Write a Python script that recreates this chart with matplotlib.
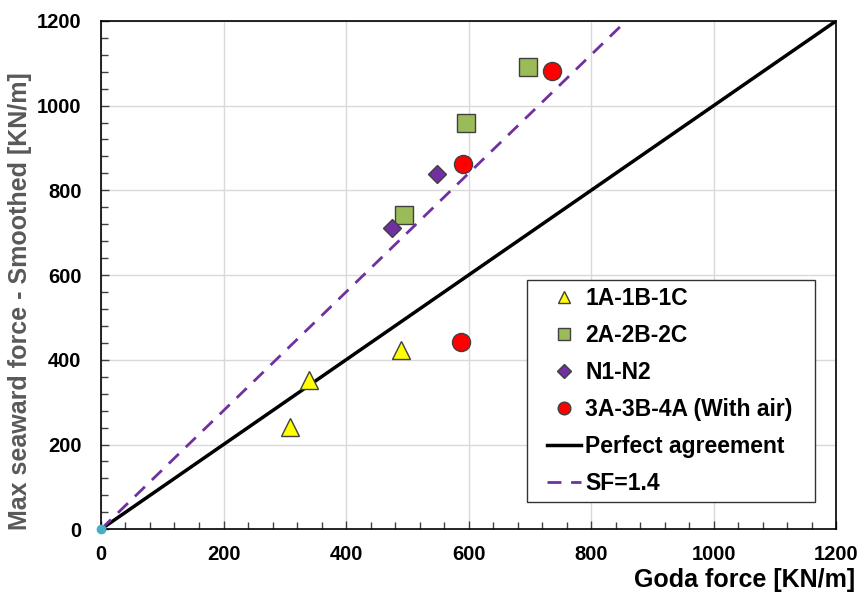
import matplotlib.pyplot as plt
import numpy as np
from matplotlib.patches import Rectangle
from matplotlib.ticker import MultipleLocator

plt.rcParams['font.family'] = ['Liberation Sans', 'DejaVu Sans']
plt.rcParams['font.weight'] = 'bold'

# data
goda_1 = [308, 340, 490]
max_1 = [242, 352, 422]
goda_2 = [495, 596, 697]
max_2 = [741, 959, 1091]
goda_n = [475, 549]
max_n = [712, 838]
goda_3 = [587, 591, 736]
max_3 = [441, 861, 1081]

sf = 1.4
line_x = [0, 1200]

fig = plt.figure(figsize=(8.63, 5.96), dpi=100)
ax = fig.add_axes([0.117, 0.112, 0.852, 0.853])

ax.plot(line_x, line_x, color='black', lw=2.5, label='Perfect agreement', zorder=2)
ax.plot(line_x, [v * sf for v in line_x], color='#7030A0', lw=2, ls=(0, (5, 3.5)),
        label='SF=1.4', zorder=2)

ax.plot(goda_1, max_1, ls='none', marker='^', ms=13, mfc='#FFFF00', mec='#404040',
        mew=1, label='1A-1B-1C', zorder=3)
ax.plot(goda_2, max_2, ls='none', marker='s', ms=13, mfc='#9BBB59', mec='#404040',
        mew=1, label='2A-2B-2C', zorder=3)
ax.plot(goda_n, max_n, ls='none', marker='D', ms=9.5, mfc='#7030A0', mec='#404040',
        mew=1, label='N1-N2', zorder=3)
ax.plot(goda_3, max_3, ls='none', marker='o', ms=13, mfc='#FF0000', mec='#404040',
        mew=1, label='3A-3B-4A (With air)', zorder=3)
ax.plot([0], [0], ls='none', marker='o', ms=6, mfc='#4BACC6', mec='#4BACC6',
        clip_on=False, zorder=4)

ax.set_xlim(0, 1200)
ax.set_ylim(0, 1200)
ax.xaxis.set_major_locator(MultipleLocator(200))
ax.yaxis.set_major_locator(MultipleLocator(200))
ax.xaxis.set_minor_locator(MultipleLocator(40))
ax.yaxis.set_minor_locator(MultipleLocator(40))
ax.tick_params(which='both', direction='in', top=False, right=False, labelsize=14.5,
               width=1, color='#404040')
ax.tick_params(which='major', length=6)
ax.tick_params(axis='y', which='major', pad=14)
ax.tick_params(axis='x', which='major', pad=11)
ax.tick_params(which='minor', length=5)
for lbl in ax.get_xticklabels() + ax.get_yticklabels():
    lbl.set_fontweight('bold')
ax.grid(True, which='major', color='#D9D9D9', lw=1)
ax.set_axisbelow(True)
for s in ax.spines.values():
    s.set_color('black')
    s.set_linewidth(1.2)

# legend box drawn separately so its padding can match the original
ax.add_patch(Rectangle((0.5796, 0.053), 0.392, 0.437, transform=ax.transAxes,
                       facecolor='white', edgecolor='#333333', lw=1, zorder=4))

handles, labels = ax.get_legend_handles_labels()
order = [2, 3, 4, 5, 0, 1]
leg = ax.legend([handles[i] for i in order], [labels[i] for i in order],
                loc='upper left', bbox_to_anchor=(0.607, 0.476), borderaxespad=0,
                fontsize=16.5, frameon=False, labelspacing=0.61, handlelength=1.45,
                handletextpad=0.2, borderpad=0, markerscale=0.7)
leg.set_zorder(5)
for t in leg.get_texts():
    t.set_fontweight('bold')

fig.text(855 / 863, 1 - 580 / 596, 'Goda force [KN/m]', ha='right', va='center',
         fontsize=18, fontweight='bold', color='black')
fig.text(20 / 863, 1 - 301 / 596, 'Max seaward force - Smoothed [KN/m]', ha='center',
         va='center', rotation=90, fontsize=18, fontweight='bold', color='#595959')

fig.savefig('out.png', dpi=100)
